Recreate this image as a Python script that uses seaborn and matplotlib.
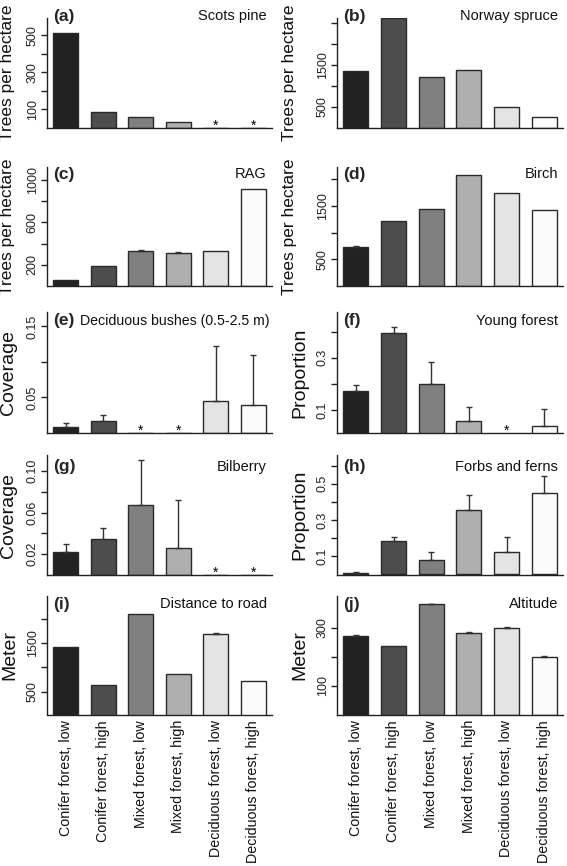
import matplotlib
matplotlib.use('Agg')
import matplotlib.pyplot as plt
import seaborn as sns

sns.set_theme(style='white')
plt.rcParams['font.family'] = ['Liberation Sans', 'DejaVu Sans']

# habitat classes and bar shades
habitats = ['Conifer forest, low', 'Conifer forest, high', 'Mixed forest, low',
            'Mixed forest, high', 'Deciduous forest, low', 'Deciduous forest, high']
bar_greys = ['#222222', '#4d4d4d', '#808080', '#afafaf', '#e4e4e4', '#fbfbfb']

# values (upper error only)
scots_pine = [509, 84, 61, 30, 0, 0]
scots_pine_err = [0, 0, 0, 0, 0, 0]
norway_spruce = [1353, 2617, 1219, 1385, 500, 255]
norway_spruce_err = [0, 0, 0, 0, 0, 0]
rag = [53, 184, 332, 313, 332, 909]
rag_err = [0, 0, 8, 6, 0, 0]
birch = [738, 1212, 1450, 2087, 1744, 1419]
birch_err = [10, 0, 0, 0, 0, 0]
bushes = [0.0082, 0.0176, 0, 0, 0.0448, 0.0401]
bushes_err = [0.0052, 0.008, 0, 0, 0.0784, 0.0691]
young_forest = [0.173, 0.394, 0.200, 0.058, 0, 0.040]
young_forest_err = [0.025, 0.024, 0.083, 0.055, 0, 0.063]
bilberry = [0.0219, 0.0344, 0.067, 0.026, 0, 0]
bilberry_err = [0.0077, 0.0106, 0.0436, 0.0458, 0, 0]
forbs = [0.006, 0.183, 0.078, 0.356, 0.124, 0.448]
forbs_err = [0.0055, 0.020, 0.046, 0.083, 0.083, 0.096]
road = [1411, 630, 2089, 856, 1692, 712]
road_err = [0, 0, 0, 0, 20, 0]
altitude = [273, 238, 382, 283, 301, 200]
altitude_err = [4, 0, 2, 3, 2, 3]

# classes marked with an asterisk (absent)
scots_pine_absent = [4, 5]
bushes_absent = [2, 3]
young_forest_absent = [4]
bilberry_absent = [4, 5]

panels = [
    dict(letter='(a)', title='Scots pine', ylabel='Trees per hectare', vals=scots_pine,
         err=scots_pine_err, absent=scots_pine_absent, ylim=(0, 592),
         ticks=[100, 200, 300, 400, 500], labels=['100', '', '300', '', '500']),
    dict(letter='(b)', title='Norway spruce', ylabel='Trees per hectare', vals=norway_spruce,
         err=norway_spruce_err, absent=[], ylim=(0, 2607),
         ticks=[500, 1000, 1500, 2000, 2500], labels=['500', '', '1500', '', '']),
    dict(letter='(c)', title='RAG', ylabel='Trees per hectare', vals=rag,
         err=rag_err, absent=[], ylim=(0, 1120),
         ticks=[200, 400, 600, 800, 1000], labels=['200', '', '600', '', '1000']),
    dict(letter='(d)', title='Birch', ylabel='Trees per hectare', vals=birch,
         err=birch_err, absent=[], ylim=(0, 2231),
         ticks=[500, 1000, 1500, 2000], labels=['500', '', '1500', '']),
    dict(letter='(e)', title='Deciduous bushes (0.5-2.5 m)', ylabel='Coverage', vals=bushes,
         err=bushes_err, absent=bushes_absent, ylim=(0, 0.1704),
         ticks=[0.05, 0.10, 0.15], labels=['0.05', '', '0.15']),
    dict(letter='(f)', title='Young forest', ylabel='Proportion', vals=young_forest,
         err=young_forest_err, absent=young_forest_absent, ylim=(0.013, 0.475),
         ticks=[0.1, 0.2, 0.3, 0.4], labels=['0.1', '', '0.3', '']),
    dict(letter='(g)', title='Bilberry', ylabel='Coverage', vals=bilberry,
         err=bilberry_err, absent=bilberry_absent, ylim=(0, 0.1152),
         ticks=[0.02, 0.04, 0.06, 0.08, 0.10], labels=['0.02', '', '0.06', '', '0.10']),
    dict(letter='(h)', title='Forbs and ferns', ylabel='Proportion', vals=forbs,
         err=forbs_err, absent=[], ylim=(-0.005, 0.659),
         ticks=[0.1, 0.2, 0.3, 0.4, 0.5, 0.6], labels=['0.1', '', '0.3', '', '0.5', '']),
    dict(letter='(i)', title='Distance to road', ylabel='Meter', vals=road,
         err=road_err, absent=[], ylim=(30, 2465),
         ticks=[500, 1000, 1500, 2000], labels=['500', '', '1500', '']),
    dict(letter='(j)', title='Altitude', ylabel='Meter', vals=altitude,
         err=altitude_err, absent=[], ylim=(0, 411),
         ticks=[100, 200, 300], labels=['100', '', '300']),
]

# layout in pixels (figure is 567 x 866)
W, H = 567, 866
col_x = [(47, 272), (337, 563)]
row_y = [(18, 128), (167, 286), (312, 433), (455, 575), (596, 714.5)]
text_y = [16, 174, 321, 467, 604]
# right edge (text bottom) of the rotated y labels
ylabel_x = {'Trees per hectare': (15, 297), 'Coverage': (17, 308),
            'Proportion': (17, 308), 'Meter': (18, 308)}
edge = '#2a2a2a'

fig = plt.figure(figsize=(W / 100, H / 100), dpi=100)

for i, p in enumerate(panels):
    r, c = divmod(i, 2)
    x0, x1 = col_x[c]
    y0, y1 = row_y[r]
    ax = fig.add_axes([x0 / W, 1 - y1 / H, (x1 - x0) / W, (y1 - y0) / H])

    sns.barplot(x=habitats, y=p['vals'], hue=habitats, palette=bar_greys, legend=False,
                saturation=1, width=0.667, edgecolor=edge, linewidth=1, ax=ax)

    # upper error bars only where there is one
    idx = [k for k, e in enumerate(p['err']) if e > 0]
    if idx:
        ax.errorbar(idx, [p['vals'][k] for k in idx],
                    yerr=[[0] * len(idx), [p['err'][k] for k in idx]], fmt='none',
                    ecolor='#333333', elinewidth=1, capsize=2.2, capthick=1)
    for k in p['absent']:
        ax.annotate('*', xy=(k, p['ylim'][0]), xytext=(0, -3.3), textcoords='offset points',
                    ha='center', va='bottom', fontsize=10, color='black',
                    annotation_clip=False)

    ax.set_xlim(-0.5, 5.5)
    ax.set_ylim(*p['ylim'])
    ax.set_yticks(p['ticks'], p['labels'], rotation=90, va='center', fontsize=9)
    ax.tick_params(axis='y', direction='out', length=4, width=1, pad=2,
                   colors='#222222', left=True)
    if r == 4:
        ax.set_xticks(range(6), habitats, rotation=90, fontsize=10.3)
        ax.tick_params(axis='x', length=0, pad=4, colors='#111111')
    else:
        ax.set_xticks([])
    ax.set_xlabel('')

    for s in ['top', 'right']:
        ax.spines[s].set_visible(False)
    for s in ['left', 'bottom']:
        ax.spines[s].set_color('#222222')
        ax.spines[s].set_linewidth(1)

    ax.set_ylabel(p['ylabel'], fontsize=12.5 if p['ylabel'] == 'Trees per hectare' else 14,
                  color='#111111')
    lx = ylabel_x[p['ylabel']][c]
    ax.yaxis.set_label_coords((lx - x0) / (x1 - x0), 0.5)

    ty = 1 - text_y[r] / H
    fig.text((x0 + 6) / W, ty, p['letter'], fontsize=12.5, fontweight='bold', va='center')
    tsize = 10.2 if len(p['title']) > 20 else 10.5
    tx = x1 - 2 if len(p['title']) > 20 else x1 - 5
    fig.text(tx / W, ty, p['title'], fontsize=tsize, va='center', ha='right',
             color='#111111')

fig.savefig('out.png', dpi=100)
